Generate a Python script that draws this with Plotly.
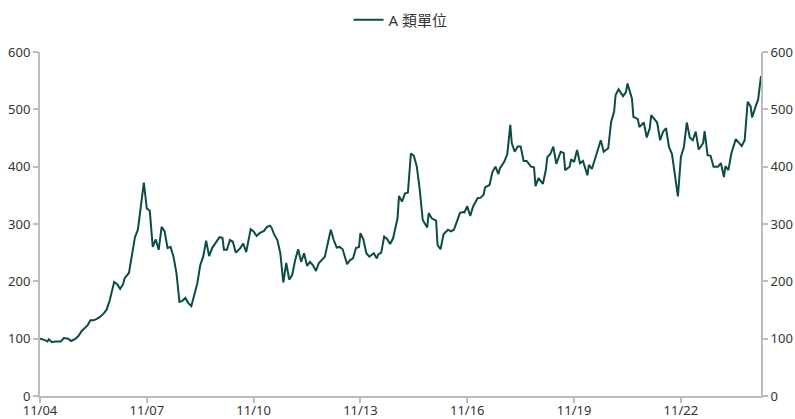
import pandas as pd
import plotly.graph_objects as go

series_name = "A 類單位"
start = "2023-11-04 00:00"

# hours since start
hours = [
    0, 3, 5, 6, 8, 10, 14, 16, 19, 21,
    24, 26, 28, 30, 32, 34, 36, 38, 40, 43,
    45, 47, 50, 52, 54, 56, 57, 60, 61, 64,
    66, 68, 70, 72, 74, 76, 78, 80, 82, 84,
    86, 88, 90, 92, 94, 96, 98, 100, 102, 104,
    106, 108, 110, 112, 114, 116, 119, 121, 123, 124,
    126, 128, 130, 132, 135, 137, 139, 142, 144, 146,
    148, 151, 153, 155, 156, 158, 160, 162, 164, 166,
    168, 170, 172, 174, 176, 178, 180, 182, 184, 186,
    188, 191, 192, 196, 198, 200, 202, 204, 207, 209,
    211, 213, 215, 216, 218, 220, 222, 225, 227, 228,
    230, 232, 234, 236, 238, 241, 242, 244, 246, 248,
    250, 252, 254, 256, 258, 261, 262, 264, 267, 268,
    270, 272, 275, 277, 279, 281, 283, 285, 286, 288,
    290, 292, 295, 297, 299, 300, 303, 305, 307, 309,
    310, 313, 315, 317, 318, 320, 322, 324, 326, 328,
    331, 333, 334, 336, 339, 341, 342, 344, 346, 348,
    351, 353, 354, 357, 358, 360, 362, 364, 366, 369,
    370, 372, 374, 376, 378, 380, 383, 385, 387, 388,
    390, 393, 395, 396, 399, 400, 403, 404, 407, 409,
    411, 412, 415, 416, 418, 420, 422, 424, 426, 428,
    430, 432, 434, 436, 438, 440, 442, 444, 447, 448,
    450, 452, 454, 457, 459, 461, 462, 464, 466, 469,
    471, 473, 475, 477, 479, 480, 483, 484, 486,
]

values = [
    100, 98, 95, 99, 94, 95, 95, 101, 100, 96,
    100, 105, 113, 119, 123, 132, 132, 134, 137, 144,
    151, 167, 199, 195, 187, 195, 205, 215, 231, 277,
    290, 336, 372, 327, 323, 260, 273, 255, 295, 287,
    258, 260, 243, 214, 164, 166, 171, 162, 157, 176,
    196, 228, 243, 271, 244, 258, 270, 277, 276, 255,
    255, 272, 269, 250, 258, 266, 251, 291, 287, 279,
    284, 288, 295, 297, 294, 281, 272, 249, 198, 232,
    203, 211, 237, 256, 234, 249, 227, 234, 228, 218,
    232, 241, 243, 290, 272, 259, 260, 256, 230, 237,
    240, 258, 260, 284, 273, 249, 243, 249, 240, 247,
    250, 278, 274, 265, 275, 310, 349, 339, 353, 355,
    423, 419, 400, 359, 307, 294, 319, 310, 306, 263,
    256, 282, 290, 287, 290, 304, 319, 321, 320, 331,
    314, 331, 345, 346, 351, 364, 368, 391, 400, 387,
    397, 409, 422, 473, 441, 426, 435, 435, 410, 410,
    400, 399, 366, 380, 370, 395, 417, 422, 435, 405,
    426, 424, 394, 400, 413, 408, 429, 406, 410, 385,
    403, 396, 414, 429, 446, 426, 432, 478, 496, 525,
    535, 523, 530, 545, 519, 487, 483, 469, 477, 451,
    467, 490, 480, 477, 446, 461, 467, 434, 422, 385,
    348, 417, 434, 477, 451, 446, 461, 430, 441, 462,
    420, 419, 400, 400, 406, 382, 401, 394, 423, 448,
    442, 436, 446, 513, 505, 486, 510, 516, 558,
]

y_ticks = [0, 100, 200, 300, 400, 500, 600]

t0 = pd.Timestamp(start)
times = [t0 + pd.Timedelta(hours=h) for h in hours]

line_color = "#0c4c46"
axis_color = "#bdbdbd"
font_fam = "Noto Sans, Noto Sans CJK TC, sans-serif"

fig = go.Figure()
fig.add_trace(go.Scatter(x=times, y=values, mode="lines", name=series_name,
                         line=dict(color=line_color, width=2)))
fig.add_trace(go.Scatter(x=times, y=values, mode="lines", yaxis="y2",
                         showlegend=False, hoverinfo="skip", opacity=0,
                         line=dict(color=line_color, width=2)))

axis_common = dict(showgrid=False, zeroline=False, showline=True,
                   linecolor=axis_color, linewidth=2, ticks="outside",
                   ticklen=5, tickwidth=1.5, tickcolor=axis_color,
                   automargin=False,
                   tickfont=dict(size=13, color="#333333"))

fig.update_layout(
    width=795, height=419,
    margin=dict(l=40, r=34, t=52, b=23, autoexpand=False),
    paper_bgcolor="white", plot_bgcolor="white",
    font=dict(family=font_fam, size=13, color="#333333"),
    showlegend=True,
    legend=dict(orientation="h", x=0.5, xanchor="center", y=1.093,
                yanchor="middle", font=dict(size=15, color="#333333"),
                itemwidth=30),
    xaxis=dict(range=[times[0], times[-1]], type="date",
               tick0=t0, dtick=3 * 86400000, tickformat="%m/%d",
               ticklabelstandoff=-4,
               **axis_common),
    yaxis=dict(range=[0, 600], tickvals=y_ticks, side="left",
               **axis_common),
    yaxis2=dict(range=[0, 600], tickvals=y_ticks, side="right",
                overlaying="y", **axis_common),
)

fig.write_html(
    "out.html",
    config={"displayModeBar": False},
    post_script="document.body.style.margin='0';document.body.style.overflow='hidden';",
)
